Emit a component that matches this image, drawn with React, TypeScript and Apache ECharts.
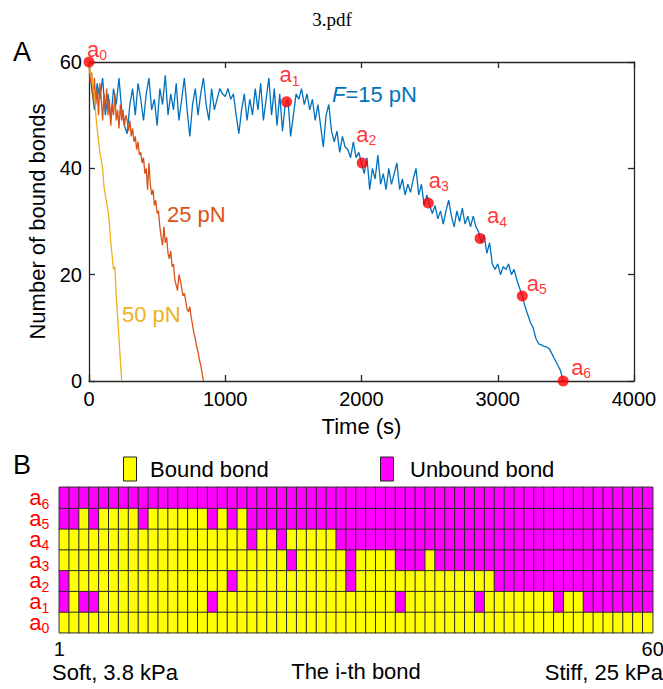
import React, { useEffect, useRef } from 'react';
import * as echarts from 'echarts';

const FONT = '"Liberation Sans", Arial, Helvetica, sans-serif';
const SERIF = '"Liberation Serif", "Times New Roman", serif';
const RED = '#FF0000';
const C_BLUE = '#0072BD';
const C_ORANGE = '#D95319';
const C_YELLOW = '#EDB120';
const AXIS = '#262626';

// ---- Panel A data (time step in seconds, number of bound bonds) ----
const BLUE_DT = 20;
const BLUE = [
  60, 55, 51, 56, 53, 57, 50, 54, 49, 55,
  52, 57, 51, 48, 46.5, 52, 55, 50, 56, 53,
  49, 54, 57, 51, 53, 48, 55, 52, 57.5, 50,
  54, 51, 56, 49, 53, 57, 51, 46, 52, 55,
  50, 54, 57, 52, 49, 55, 51, 53, 55, 54,
  53.5, 55, 53, 54, 50, 46.5, 51, 54, 49, 53,
  50, 55, 51, 56, 49, 53, 57, 50, 55, 48,
  54, 47, 52, 53, 46, 50, 54, 53, 55, 52,
  54, 51, 53, 49, 52, 48, 44, 50, 52, 47,
  45, 47, 43, 46, 44, 43.5, 42, 45, 42, 43,
  41, 39, 42, 36, 40, 38, 42.5, 37, 39, 36,
  40, 37, 39, 41, 36, 38, 35, 37, 35.5, 38,
  40, 35, 37, 33, 35, 33, 31.5, 33, 30.5, 32,
  29.5, 32, 34, 31, 29, 32, 30, 32.5, 29.5, 31,
  29, 31, 29, 28, 26, 27.5, 24, 26, 22, 21,
  22, 20, 21.5, 21, 22, 20, 21, 19, 17.5, 16,
  14, 12.5, 11, 10, 8, 7, 6.8, 6.5, 6.4, 6,
  5, 4, 3, 2, 0,
];

const ORANGE_DT = 10;
const ORANGE = [
  60, 56, 58, 53, 57, 52, 55, 50, 56, 53,
  49, 54, 51, 55, 50, 53, 48, 52, 50, 54,
  49, 51, 47.5, 52, 49, 51, 48, 50, 49, 47,
  49, 46, 47.5, 45, 46, 43.5, 45, 42.5, 43, 41,
  42, 39, 40, 36, 41, 37, 35, 36, 33, 34,
  31.5, 32, 29, 27, 25.5, 29, 26, 27, 24, 23,
  24.5, 21.5, 22, 19, 18, 17, 20, 19, 17.5, 16,
  16.5, 15, 13.5, 13, 14, 12, 10.5, 9, 8, 6.5,
  5.5, 4, 3, 1.5, 0,
];

const YELLOW_DT = 10;
const YELLOW = [
  60, 58, 57, 55, 54, 50, 47.5, 45, 43, 41.5,
  40, 36.5, 35, 33.5, 32, 29.5, 26, 23.5, 21, 21.5,
  16, 12, 8, 4, 0,
];

const MARK_T = [0, 1450, 2005, 2490, 2870, 3180, 3480];
const MARK_V = [60, 52.5, 41, 33.5, 26.8, 16, 0];
const MARK_NAMES = ['0', '1', '2', '3', '4', '5', '6'];

// ---- Panel B data (1 = bound bond, 0 = unbound bond), columns 1..60 ----
const BOND_ROWS = ['0', '1', '2', '3', '4', '5', '6'];
const BOND_COLUMNS = [
  '1', '2', '3', '4', '5', '6', '7', '8', '9', '10',
  '11', '12', '13', '14', '15', '16', '17', '18', '19', '20',
  '21', '22', '23', '24', '25', '26', '27', '28', '29', '30',
  '31', '32', '33', '34', '35', '36', '37', '38', '39', '40',
  '41', '42', '43', '44', '45', '46', '47', '48', '49', '50',
  '51', '52', '53', '54', '55', '56', '57', '58', '59', '60',
];
const ROW_A0 = [
  1, 1, 1, 1, 1, 1, 1, 1, 1, 1,
  1, 1, 1, 1, 1, 1, 1, 1, 1, 1,
  1, 1, 1, 1, 1, 1, 1, 1, 1, 1,
  1, 1, 1, 1, 1, 1, 1, 1, 1, 1,
  1, 1, 1, 1, 1, 1, 1, 1, 1, 1,
  1, 1, 1, 1, 1, 1, 1, 1, 1, 1,
];
const ROW_A1 = [
  0, 1, 0, 0, 1, 1, 1, 1, 1, 1,
  1, 1, 1, 1, 1, 0, 1, 1, 1, 1,
  1, 1, 1, 1, 1, 1, 1, 1, 1, 1,
  1, 1, 1, 1, 0, 1, 1, 1, 1, 1,
  1, 1, 0, 1, 1, 1, 1, 1, 1, 1,
  0, 1, 1, 0, 0, 0, 0, 0, 0, 0,
];
const ROW_A2 = [
  0, 1, 1, 1, 1, 1, 1, 1, 1, 1,
  1, 1, 1, 1, 1, 1, 1, 0, 1, 1,
  1, 1, 1, 1, 1, 1, 1, 1, 1, 0,
  1, 1, 1, 1, 1, 1, 1, 1, 1, 1,
  1, 1, 1, 1, 0, 0, 0, 0, 0, 0,
  0, 0, 0, 0, 0, 0, 0, 0, 0, 0,
];
const ROW_A3 = [
  1, 1, 1, 1, 1, 1, 1, 1, 1, 1,
  1, 1, 1, 1, 1, 1, 1, 1, 1, 1,
  1, 1, 1, 0, 1, 1, 1, 1, 1, 0,
  1, 1, 1, 1, 0, 0, 0, 1, 0, 0,
  0, 0, 0, 0, 0, 0, 0, 0, 0, 0,
  0, 0, 0, 0, 0, 0, 0, 0, 0, 0,
];
const ROW_A4 = [
  1, 1, 1, 1, 1, 1, 1, 1, 1, 1,
  1, 1, 1, 1, 1, 1, 1, 1, 1, 0,
  1, 1, 0, 1, 1, 1, 1, 1, 0, 0,
  0, 0, 0, 0, 0, 0, 0, 0, 0, 0,
  0, 0, 0, 0, 0, 0, 0, 0, 0, 0,
  0, 0, 0, 0, 0, 0, 0, 0, 0, 0,
];
const ROW_A5 = [
  0, 0, 1, 0, 1, 1, 1, 1, 0, 1,
  1, 1, 1, 1, 1, 0, 1, 0, 1, 0,
  0, 0, 0, 0, 0, 0, 0, 0, 0, 0,
  0, 0, 0, 0, 0, 0, 0, 0, 0, 0,
  0, 0, 0, 0, 0, 0, 0, 0, 0, 0,
  0, 0, 0, 0, 0, 0, 0, 0, 0, 0,
];
const ROW_A6 = [
  0, 0, 0, 0, 0, 0, 0, 0, 0, 0,
  0, 0, 0, 0, 0, 0, 0, 0, 0, 0,
  0, 0, 0, 0, 0, 0, 0, 0, 0, 0,
  0, 0, 0, 0, 0, 0, 0, 0, 0, 0,
  0, 0, 0, 0, 0, 0, 0, 0, 0, 0,
  0, 0, 0, 0, 0, 0, 0, 0, 0, 0,
];
const BOND_STATES = [ROW_A0, ROW_A1, ROW_A2, ROW_A3, ROW_A4, ROW_A5, ROW_A6];

// ---- styles (not data) ----
const LABEL_OFFSETS = [
  [8, -13], [3, -27], [4, -29], [10.5, -22.5], [17, -23], [14.5, -12.5], [18, -14],
];

const RICH = {
  a: { fontSize: 22, lineHeight: 18, color: RED, fontFamily: FONT },
  s: { fontSize: 14, lineHeight: 18, padding: [12, 0, 0, 0], color: RED, fontFamily: FONT },
};

const txt = (text: string, x: number, y: number, size: number, fill: string, align = 'left', family = FONT, rich?: any) => ({
  type: 'text',
  x,
  y,
  silent: true,
  z: 10,
  style: {
    text,
    fill,
    textFill: fill,
    font: `${size}px ${family}`,
    fontSize: size,
    fontFamily: family,
    align,
    textAlign: align,
    verticalAlign: 'middle',
    textVerticalAlign: 'middle',
    ...(rich ? { rich } : {}),
  },
});

function buildOption() {
  const blueData = BLUE.map((v, i) => [i * BLUE_DT, v]);
  const orangeData = ORANGE.map((v, i) => [i * ORANGE_DT, v]);
  const yellowData = YELLOW.map((v, i) => [i * YELLOW_DT, v]);
  const markData = MARK_T.map((t, i) => ({
    value: [t, MARK_V[i]],
    label: { offset: LABEL_OFFSETS[i] },
  }));
  const heatData: number[][] = [];
  BOND_STATES.forEach((row, r) => {
    row.forEach((state, c) => heatData.push([c, r, state]));
  });

  const axisLine = { show: true, onZero: false, lineStyle: { color: AXIS, width: 1.3 } };
  const axisTick = { show: true, inside: true, length: 6, lineStyle: { color: AXIS, width: 1.3 } };
  const tickLabel = { fontSize: 20, color: '#000', fontFamily: FONT, formatter: (v: number) => String(v) };
  const nameStyle = { fontSize: 22, color: '#000', fontFamily: FONT };

  return {
    animation: false,
    backgroundColor: '#ffffff',
    grid: [
      { left: 89, top: 62, width: 545, height: 319, containLabel: false, outerBoundsMode: 'none' },
      { left: 59.3, top: 487.3, width: 593.4, height: 145.4, containLabel: false, outerBoundsMode: 'none' },
    ],
    xAxis: [
      {
        gridIndex: 0, type: 'value', min: 0, max: 4000, interval: 1000, position: 'bottom',
        axisLine, axisTick, axisLabel: { ...tickLabel, margin: 8 }, splitLine: { show: false },
        name: 'Time (s)', nameLocation: 'middle', nameGap: 34, nameTextStyle: nameStyle,
      },
      {
        gridIndex: 0, type: 'value', min: 0, max: 4000, interval: 1000, position: 'top',
        axisLine, axisTick, axisLabel: { show: false }, splitLine: { show: false },
      },
      { gridIndex: 1, type: 'category', data: BOND_COLUMNS, show: false },
      {
        gridIndex: 1, type: 'value', min: 1, max: 60, interval: 59, position: 'bottom',
        axisLine: { show: false }, axisTick: { show: false }, splitLine: { show: false },
        axisLabel: { ...tickLabel, margin: 6 },
        name: 'The i-th bond', nameLocation: 'middle', nameGap: 28, nameTextStyle: nameStyle,
      },
    ],
    yAxis: [
      {
        gridIndex: 0, type: 'value', min: 0, max: 60, interval: 20, position: 'left',
        axisLine, axisTick, axisLabel: { ...tickLabel, margin: 7 }, splitLine: { show: false },
        name: 'Number of bound bonds', nameLocation: 'middle', nameGap: 39, nameRotate: 90,
        nameTextStyle: nameStyle,
      },
      {
        gridIndex: 0, type: 'value', min: 0, max: 60, interval: 20, position: 'right',
        axisLine, axisTick, axisLabel: { show: false }, splitLine: { show: false },
      },
      {
        gridIndex: 1, type: 'category', data: BOND_ROWS,
        axisLine: { show: false }, axisTick: { show: false }, splitLine: { show: false },
        axisLabel: {
          margin: 10,
          interval: 0,
          formatter: (v: string) => `{a|a}{s|${v}}`,
          rich: RICH,
        },
      },
    ],
    visualMap: [
      {
        type: 'piecewise', show: false, seriesIndex: 4, dimension: 2,
        pieces: [
          { value: 0, color: '#FF00FF' },
          { value: 1, color: '#FFFF00' },
        ],
      },
    ],
    series: [
      {
        type: 'line', name: 'F=15 pN', xAxisIndex: 0, yAxisIndex: 0, data: blueData,
        symbol: 'none', showSymbol: false, clip: false, silent: true, z: 2,
        lineStyle: { color: C_BLUE, width: 1.3 },
      },
      {
        type: 'line', name: '25 pN', xAxisIndex: 0, yAxisIndex: 0, data: orangeData,
        symbol: 'none', showSymbol: false, clip: false, silent: true, z: 3,
        lineStyle: { color: C_ORANGE, width: 1.3 },
      },
      {
        type: 'line', name: '50 pN', xAxisIndex: 0, yAxisIndex: 0, data: yellowData,
        symbol: 'none', showSymbol: false, clip: false, silent: true, z: 4,
        lineStyle: { color: C_YELLOW, width: 1.3 },
      },
      {
        type: 'scatter', name: 'states', xAxisIndex: 0, yAxisIndex: 0, data: markData,
        symbol: 'circle', symbolSize: 11, clip: false, silent: true, z: 6,
        itemStyle: { color: RED },
        label: {
          show: true, position: 'inside', color: RED,
          formatter: (p: any) => `{a|a}{s|${MARK_NAMES[p.dataIndex]}}`,
          rich: RICH,
        },
      },
      {
        type: 'heatmap', name: 'bonds', xAxisIndex: 2, yAxisIndex: 2, data: heatData,
        silent: true,
        itemStyle: { borderColor: '#2b2b2b', borderWidth: 1 },
        emphasis: { disabled: true },
      },
    ],
    graphic: [
      txt('3.pdf', 332, 19, 19, '#000', 'center', SERIF),
      txt('A', 13, 52, 27, '#000'),
      txt('B', 13, 465, 27, '#000'),
      txt('{i|F}=15 pN', 332, 94, 22, C_BLUE, 'left', FONT, {
        i: { fontStyle: 'italic', fontSize: 22, fontFamily: FONT, color: C_BLUE },
      }),
      txt('25 pN', 167, 214, 22, C_ORANGE),
      txt('50 pN', 122, 314.5, 22, C_YELLOW),
      {
        type: 'rect', silent: true, z: 10,
        shape: { x: 123.5, y: 457, width: 13, height: 24 },
        style: { fill: '#FFFF00', stroke: '#222', lineWidth: 1 },
      },
      txt('Bound bond', 150, 469, 22, '#000'),
      {
        type: 'rect', silent: true, z: 10,
        shape: { x: 380.5, y: 457, width: 13, height: 24 },
        style: { fill: '#FF00FF', stroke: '#222', lineWidth: 1 },
      },
      txt('Unbound bond', 410, 469, 22, '#000'),
      txt('Soft, 3.8 kPa', 52, 672, 22, '#000'),
      txt('Stiff, 25 kPa', 663, 672, 22, '#000', 'right'),
    ],
  };
}

export default function App() {
  const ref = useRef<HTMLDivElement>(null);
  useEffect(() => {
    if (!ref.current) return;
    const chart = echarts.init(ref.current, null, { renderer: 'svg' });
    chart.setOption(buildOption() as any);
    return () => chart.dispose();
  }, []);
  return (
    <div
      ref={ref}
      style={{ position: 'fixed', left: 0, top: 0, width: 663, height: 689, background: '#fff' }}
    />
  );
}
